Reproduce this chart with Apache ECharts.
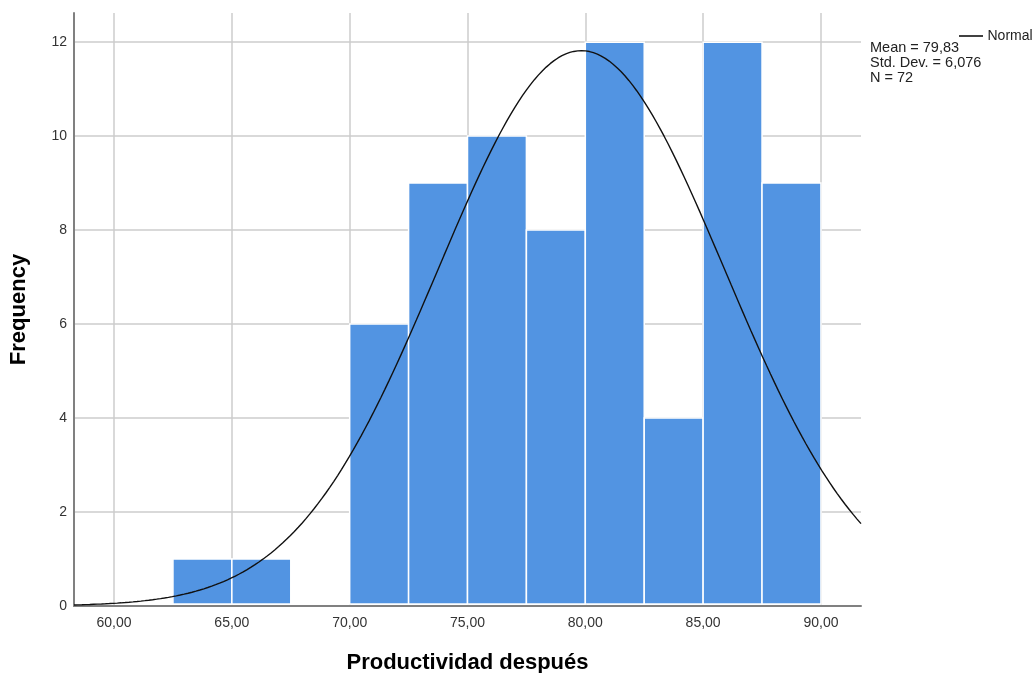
<!DOCTYPE html>
<html>
<head>
<meta charset="utf-8">
<script src="https://cdn.jsdelivr.net/npm/echarts@6/dist/echarts.min.js"></script>
<style>
html,body{margin:0;padding:0;background:#fff;}
#chart{width:1034px;height:673px;}
</style>
</head>
<body>
<div id="chart"></div>
<script>
// Histogram bins (lower edge, upper edge) and frequencies
const binStarts = [62.5, 65, 67.5, 70, 72.5, 75, 77.5, 80, 82.5, 85, 87.5];
const binEnds   = [65, 67.5, 70, 72.5, 75, 77.5, 80, 82.5, 85, 87.5, 90];
const frequencies = [1, 1, 0, 6, 9, 10, 8, 12, 4, 12, 9];
// Summary statistics shown in the legend
const statMean = 79.83;
const statSD = 6.076;
const statN = 72;
const binWidth = 2.5;
// Tick labels
const xTicks = [60, 65, 70, 75, 80, 85, 90];
const yTicks = [0, 2, 4, 6, 8, 10, 12];
const xMin = 58.3, xMax = 91.7, yMax = 12.62;

// Fitted normal curve from the stated mean / std. dev. / N
const curve = [];
for (let i = 0; i <= 200; i++) {
  const x = xMin + (xMax - xMin) * i / 200;
  const z = (x - statMean) / statSD;
  const y = statN * binWidth / (statSD * Math.sqrt(2 * Math.PI)) * Math.exp(-0.5 * z * z);
  curve.push([x, y]);
}
const histData = binStarts.map((s, i) => [s, binEnds[i], frequencies[i]]);

const fmt = v => v.toFixed(2).replace('.', ',');
const chart = echarts.init(document.getElementById('chart'));
const FONT = 'Liberation Sans, Arial, sans-serif';
chart.setOption({
  animation: false,
  textStyle: { fontFamily: FONT },
  grid: { left: 74, right: 173, top: 13, bottom: 67, outerBoundsMode: 'none', containLabel: false },
  legend: {
    data: [{ name: 'Normal', icon: 'path://M0,0 L30,0 L30,2 L0,2 Z' }],
    left: 954, top: 24, itemWidth: 27, itemHeight: 1.6, itemGap: 4,
    textStyle: { fontFamily: FONT, fontSize: 14, color: '#222', padding: [0, 0, 0, -2] }
  },
  graphic: [{
    type: 'text', left: 870, top: 40,
    style: {
      text: 'Mean = ' + fmt(statMean) + '\nStd. Dev. = ' + statSD.toFixed(3).replace('.', ',') + '\nN = ' + statN,
      fontFamily: FONT, fontSize: 14.5, lineHeight: 15, fill: '#222'
    }
  }],
  xAxis: {
    type: 'value', min: xMin, max: xMax,
    name: 'Productividad después', nameLocation: 'middle', nameGap: 46,
    nameTextStyle: { fontFamily: FONT, fontSize: 22, fontWeight: 'bold', color: '#000' },
    axisLine: { show: true, lineStyle: { color: '#808080', width: 2 } },
    axisTick: { show: false, customValues: xTicks },
    axisLabel: { customValues: xTicks, formatter: v => fmt(v), fontSize: 14, color: '#333', margin: 10 },
    splitLine: { show: true, lineStyle: { color: '#cccccc', width: 1.5 } }
  },
  yAxis: {
    type: 'value', min: 0, max: yMax,
    name: 'Frequency', nameLocation: 'middle', nameGap: 44, nameRotate: 90,
    nameTextStyle: { fontFamily: FONT, fontSize: 22, fontWeight: 'bold', color: '#000' },
    axisLine: { show: true, lineStyle: { color: '#808080', width: 2 } },
    axisTick: { show: false, customValues: yTicks },
    axisLabel: { customValues: yTicks, fontSize: 14, color: '#333', margin: 7 },
    splitLine: { show: true, lineStyle: { color: '#cccccc', width: 1.5 } }
  },
  series: [{
    type: 'custom',
    name: 'Frequency',
    data: histData,
    encode: { x: [0, 1], y: 2 },
    renderItem: function (params, api) {
      if (!(api.value(2) > 0)) return null;
      const p0 = api.coord([api.value(0), 0]);
      const p1 = api.coord([api.value(1), api.value(2)]);
      return {
        type: 'rect',
        shape: { x: p0[0], y: p1[1], width: p1[0] - p0[0], height: Math.max(0, p0[1] - p1[1] - 2) },
        style: { fill: '#5294e2', stroke: '#ffffff', lineWidth: 1.5 }
      };
    },
    z: 2
  }, {
    type: 'line',
    name: 'Normal',
    data: curve,
    showSymbol: false,
    smooth: false,
    lineStyle: { color: '#111', width: 1.4 },
    itemStyle: { color: '#111' },
    z: 3
  }]
});
</script>
</body>
</html>
